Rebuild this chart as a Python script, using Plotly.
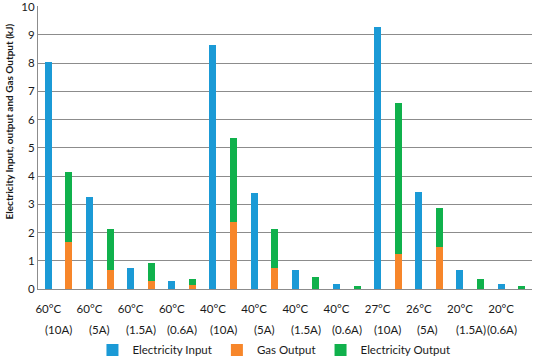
import plotly.graph_objects as go

# ---------------- data ----------------
temps = ["60°C", "60°C", "60°C", "60°C", "40°C", "40°C", "40°C", "40°C",
         "27°C", "26°C", "20°C", "20°C"]
currents = ["(10A)", "(5A)", "(1.5A)", "(0.6A)", "(10A)", "(5A)", "(1.5A)", "(0.6A)",
            "(10A)", "(5A)", "(1.5A)", "(0.6A)"]
electricity_input = [8.04, 3.25, 0.75, 0.27, 8.63, 3.40, 0.67, 0.18, 9.26, 3.42, 0.68, 0.19]
gas_output = [1.68, 0.69, 0.30, 0.14, 2.37, 0.76, 0.0, 0.0, 1.25, 1.49, 0.0, 0.0]
electricity_output = [2.45, 1.42, 0.62, 0.23, 2.96, 1.37, 0.41, 0.12, 5.34, 1.38, 0.34, 0.09]
y_ticks = [0, 1, 2, 3, 4, 5, 6, 7, 8, 9, 10]

# ---------------- layout helpers ----------------
n = len(temps)
x_in = [2 * i for i in range(n)]          # input bar slot
x_out = [2 * i + 1 for i in range(n)]     # stacked output bar slot
second_line_offset = [0.5, 0.5, 0.5, 0.5, 0.5, 0.5, 0.5, 0.5, 0.5, 0.4, 0.55, 0.03]

BLUE = "#1b9ad6"
ORANGE = "#f7862a"
GREEN = "#10b14c"
GRID = "#8c8c8c"
FONT = "Lato"
TXT = "#1a1a1a"
BW = 0.34

fig = go.Figure()
fig.add_trace(go.Bar(x=x_in, y=electricity_input, name="Electricity Input",
                     marker=dict(color=BLUE, line_width=0), width=BW))
fig.add_trace(go.Bar(x=x_out, y=gas_output, name="Gas Output",
                     marker=dict(color=ORANGE, line_width=0), width=BW))
fig.add_trace(go.Bar(x=x_out, y=electricity_output, name="Electricity Output",
                     marker=dict(color=GREEN, line_width=0), width=BW))

annotations = []
for i in range(n):
    annotations.append(dict(x=x_in[i] + second_line_offset[i], xref="x",
                            y=0, yref="y", yshift=-40, text=currents[i],
                            showarrow=False, yanchor="middle", xanchor="center",
                            font=dict(family=FONT, size=11.5, color=TXT)))
annotations.append(dict(x=(8.5 - 38) / 494, xref="paper", y=(289 - 122) / 283, yref="paper",
                        text="<b>Electricity Input, output and Gas Output (kJ)</b>",
                        textangle=-90, showarrow=False, xanchor="center", yanchor="middle",
                        font=dict(family=FONT, size=10, color=TXT)))

fig.update_layout(
    width=533, height=356,
    margin=dict(l=38, r=1, t=6, b=67, autoexpand=False),
    barmode="stack",
    plot_bgcolor="white", paper_bgcolor="white",
    font=dict(family=FONT, size=11.5, color=TXT),
    showlegend=True,
    legend=dict(orientation="h", xref="container", x=0.514, xanchor="center",
                yref="container", y=0.017, yanchor="middle",
                font=dict(family=FONT, size=11.5, color=TXT), itemwidth=30,
                tracegroupgap=0, traceorder="normal"),
    annotations=annotations,
    xaxis=dict(range=[-0.5, 2 * n - 0.5], tickmode="array", tickvals=x_in, ticktext=temps,
               ticks="outside", ticklen=9, tickcolor="rgba(0,0,0,0)", automargin=False,
               showline=True, linecolor=GRID, linewidth=1, showgrid=False,
               zeroline=False, tickfont=dict(family=FONT, size=11.5, color=TXT)),
    yaxis=dict(range=[0, 10.02], tickmode="array", tickvals=y_ticks, automargin=False,
               ticklabeloverflow="allow",
               showgrid=True, gridcolor=GRID, gridwidth=1,
               showline=True, linecolor=GRID, linewidth=1,
               zeroline=True, zerolinecolor=GRID, zerolinewidth=1,
               ticks="", tickfont=dict(family=FONT, size=11.5, color=TXT)),
)

fig.write_html("out.html", config={"displayModeBar": False})

# remove the browser's default page margin so the figure sits at the window origin
with open("out.html", "r", encoding="utf-8") as f:
    html = f.read()
html = html.replace("<head>", "<head><style>html,body{margin:0;padding:0;overflow:hidden;}</style>", 1)
with open("out.html", "w", encoding="utf-8") as f:
    f.write(html)
